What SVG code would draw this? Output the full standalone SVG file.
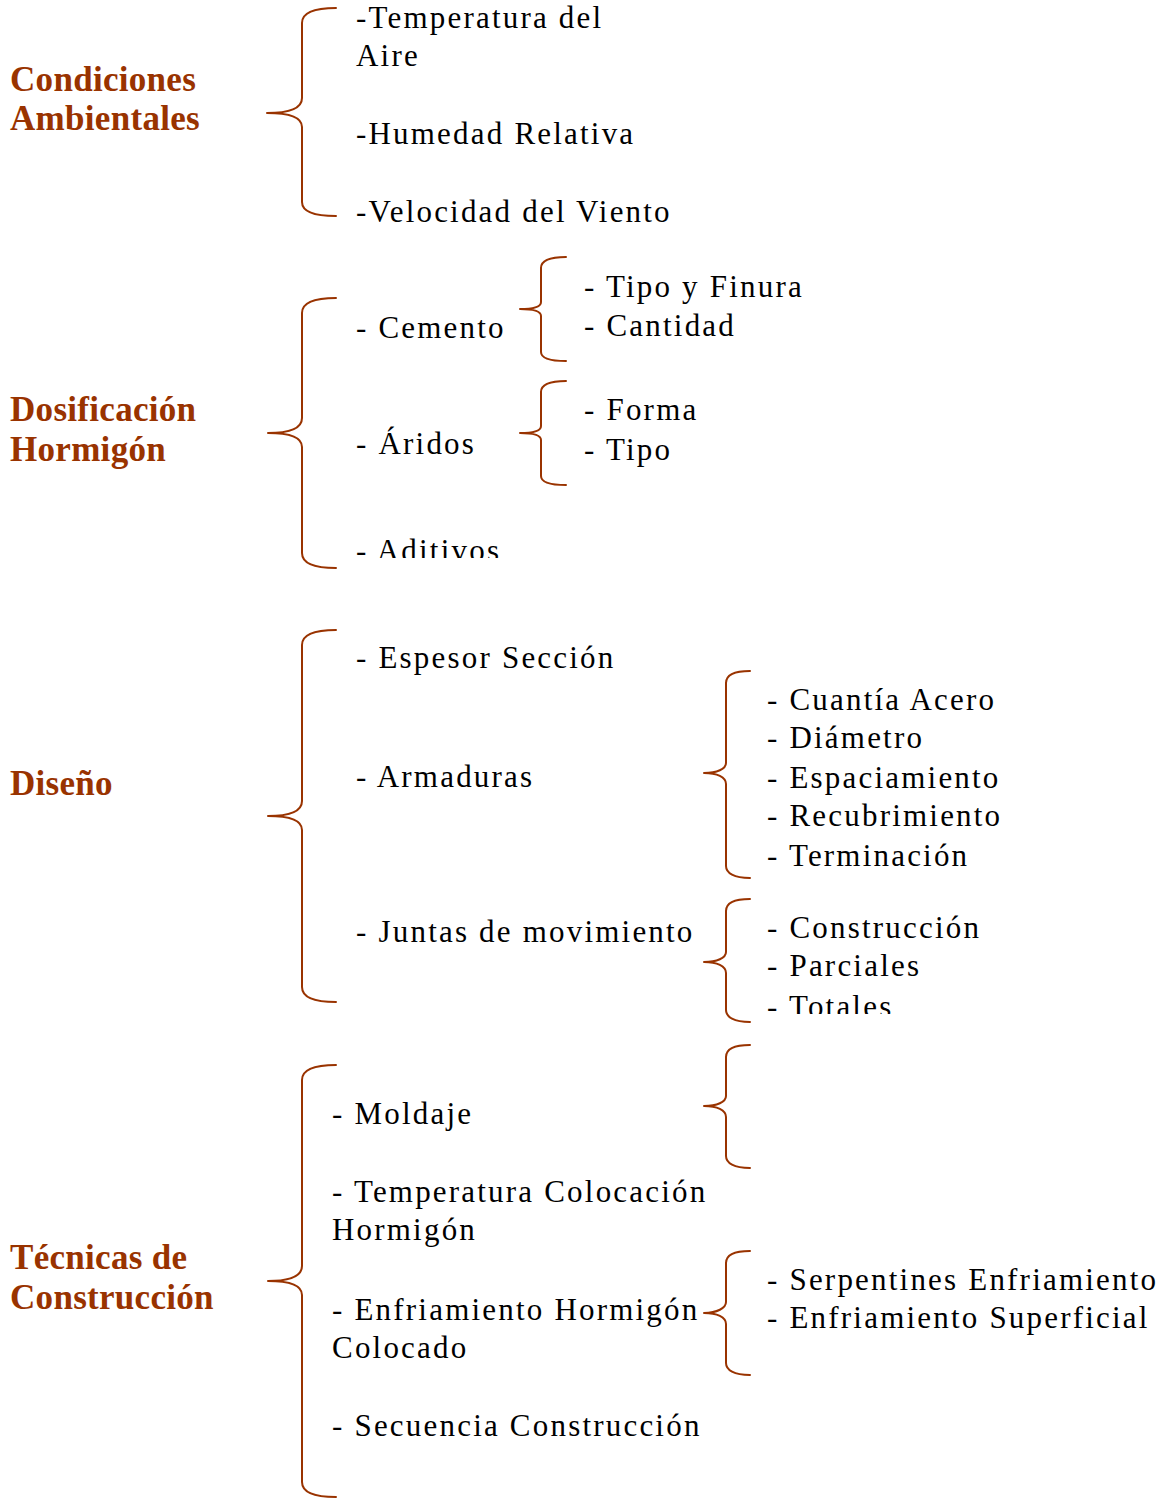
<svg xmlns="http://www.w3.org/2000/svg" width="1159" height="1498" viewBox="0 0 1159 1498">
<style>
.h{font-family:"Liberation Serif","Times New Roman",serif;font-weight:bold;font-size:35px;letter-spacing:0.3px;fill:#993300}
.t{font-family:"Liberation Serif","Times New Roman",serif;font-size:31px;letter-spacing:2.2px;fill:#000}
.b{fill:none;stroke:#993300;stroke-width:2;stroke-linecap:round;stroke-linejoin:round}
</style>
<defs>
<clipPath id="c1"><rect x="0" y="0" width="1159" height="558"/></clipPath>
<clipPath id="c2"><rect x="0" y="0" width="1159" height="1014"/></clipPath>
</defs>
<g id="connectors">
<path class="b" d="M336,8 C312,8 302,14 302,23 L302,98 C302,108 290,113 267,113 C290,113 302,118 302,127 L302,202 C302,211 312,216 336,216"/>
<path class="b" d="M336,298 C312,298 302,304 302,313 L302,418 C302,428 290,433 268,433 C290,433 302,438 302,447 L302,553 C302,562 312,568 336,568"/>
<path class="b" d="M566,257 C549,257 541,261 541,268 L541,302 C541,307 532,309 520,309 C532,309 541,311 541,316 L541,352 C541,358 549,361 566,361"/>
<path class="b" d="M566,381 C549,381 541,385 541,392 L541,426 C541,431 532,433 520,433 C532,433 541,435 541,440 L541,476 C541,482 549,485 566,485"/>
<path class="b" d="M336,630 C312,630 302,636 302,645 L302,801 C302,811 290,816 268,816 C290,816 302,821 302,830 L302,987 C302,996 312,1002 336,1002"/>
<path class="b" d="M750,671 C734,671 726,675 726,683 L726,763 C726,769 717,773 704,773 C717,773 726,777 726,784 L726,866 C726,873 734,878 750,878"/>
<path class="b" d="M750,899 C734,899 726,903 726,911 L726,952 C726,958 717,962 704,962 C717,962 726,966 726,973 L726,1010 C726,1017 734,1022 750,1022"/>
<path class="b" d="M336,1065 C312,1065 302,1071 302,1080 L302,1266 C302,1276 290,1281 268,1281 C290,1281 302,1286 302,1295 L302,1482 C302,1491 312,1497 336,1497"/>
<path class="b" d="M750,1045 C734,1045 726,1049 726,1057 L726,1096 C726,1102 717,1106 704,1106 C717,1106 726,1110 726,1117 L726,1156 C726,1163 734,1168 750,1168"/>
<path class="b" d="M750,1251 C734,1251 726,1255 726,1263 L726,1302 C726,1308 717,1313 704,1313 C717,1313 726,1317 726,1324 L726,1363 C726,1370 734,1375 750,1375"/>
</g>
<g id="condiciones">
<text class="h" x="10" y="91">Condiciones</text>
<text class="h" x="10" y="130">Ambientales</text>
</g>
<g id="cond-items">
<text class="t" x="356" y="28">-Temperatura del</text>
<text class="t" x="356" y="66">Aire</text>
<text class="t" x="356" y="144">-Humedad Relativa</text>
<text class="t" x="356" y="222">-Velocidad del Viento</text>
</g>
<g id="dosificacion">
<text class="h" x="10" y="421">Dosificación</text>
<text class="h" x="10" y="461">Hormigón</text>
</g>
<g id="dos-items">
<text class="t" x="356" y="338">- Cemento</text>
<text class="t" x="356" y="454">- Áridos</text>
<text class="t" x="356" y="561" clip-path="url(#c1)">- Aditivos</text>
<text class="t" x="584" y="297">- Tipo y Finura</text>
<text class="t" x="584" y="336">- Cantidad</text>
<text class="t" x="584" y="420">- Forma</text>
<text class="t" x="584" y="460">- Tipo</text>
</g>
<g id="diseno">
<text class="h" x="10" y="795">Diseño</text>
</g>
<g id="dis-items">
<text class="t" x="356" y="668">- Espesor Sección</text>
<text class="t" x="356" y="787">- Armaduras</text>
<text class="t" x="356" y="942">- Juntas de movimiento</text>
<text class="t" x="767" y="710">- Cuantía Acero</text>
<text class="t" x="767" y="748">- Diámetro</text>
<text class="t" x="767" y="788">- Espaciamiento</text>
<text class="t" x="767" y="826">- Recubrimiento</text>
<text class="t" x="767" y="866">- Terminación</text>
<text class="t" x="767" y="938">- Construcción</text>
<text class="t" x="767" y="976">- Parciales</text>
<text class="t" x="767" y="1017" clip-path="url(#c2)">- Totales</text>
</g>
<g id="tecnicas">
<text class="h" x="10" y="1269">Técnicas de</text>
<text class="h" x="10" y="1309">Construcción</text>
</g>
<g id="tec-items">
<text class="t" x="332" y="1124">- Moldaje</text>
<text class="t" x="332" y="1202">- Temperatura Colocación</text>
<text class="t" x="332" y="1240">Hormigón</text>
<text class="t" x="332" y="1320">- Enfriamiento Hormigón</text>
<text class="t" x="332" y="1358">Colocado</text>
<text class="t" x="332" y="1436">- Secuencia Construcción</text>
<text class="t" x="767" y="1290">- Serpentines Enfriamiento</text>
<text class="t" x="767" y="1328">- Enfriamiento Superficial</text>
</g>
</svg>
